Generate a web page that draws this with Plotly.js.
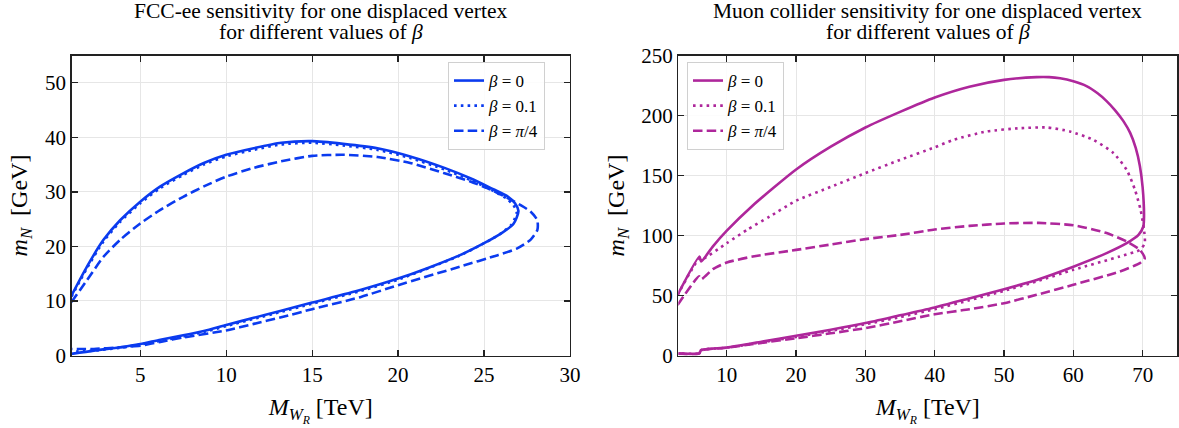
<!DOCTYPE html>
<html>
<head>
<meta charset="utf-8">
<script src="https://cdn.plot.ly/plotly-3.0.1.min.js"></script>
<style>
html,body{margin:0;padding:0;background:#fff;}
</style>
</head>
<body>
<div id="chart" style="width:1179px;height:428px"></div>
<script>
// ---------- FCC-ee (left panel) ----------
var fcc_b0_x = [1.0, 1.9, 2.86, 3.83, 5.0, 6.17, 7.5, 8.7, 10.0, 11.6, 13.2, 15.0, 16.8, 18.8, 20.7, 22.7, 24.2, 25.4, 26.4, 26.8, 27.0,
                26.9, 26.7, 26.0, 25.0, 23.6, 21.7, 20.0, 17.8, 15.0, 13.2, 11.6, 10.0, 8.7, 7.5, 6.17, 5.0, 3.83, 2.3, 1.0];
var fcc_b0_y = [11.0, 16.3, 21.2, 24.8, 28.2, 31.0, 33.4, 35.3, 36.8, 38.0, 39.0, 39.3, 38.8, 38.0, 36.5, 34.4, 32.5, 30.7, 29.1, 27.9, 26.5,
                25.3, 24.1, 22.4, 20.6, 18.4, 16.0, 14.1, 12.0, 9.7, 8.2, 6.9, 5.6, 4.5, 3.7, 2.9, 2.1, 1.5, 0.9, 0.3];

var fcc_b01_x = [1.0, 1.9, 2.86, 3.83, 5.0, 6.17, 7.5, 8.7, 10.0, 11.6, 13.2, 15.0, 16.8, 18.8, 20.7, 22.7, 24.2, 25.4, 26.3, 26.7, 26.9,
                 26.8, 26.6, 25.9, 24.9, 23.5, 21.6, 20.0, 17.8, 15.0, 13.2, 11.6, 10.0, 8.7, 7.5, 6.17, 5.0, 3.83, 2.3, 1.0];
var fcc_b01_y = [10.8, 16.0, 20.9, 24.5, 27.9, 30.7, 33.1, 35.0, 36.5, 37.7, 38.7, 39.0, 38.5, 37.7, 36.2, 34.1, 32.2, 30.4, 28.8, 27.6, 26.3,
                 25.2, 24.0, 22.2, 20.4, 18.2, 15.8, 13.9, 11.8, 9.5, 8.0, 6.7, 5.4, 4.3, 3.5, 2.7, 2.0, 1.4, 0.9, 0.7];

var fcc_bpi4_x = [1.0, 1.9, 2.86, 3.83, 5.0, 6.17, 7.5, 8.7, 10.0, 11.6, 13.2, 15.0, 16.8, 18.8, 20.7, 22.7, 24.2, 25.4, 26.6, 27.1, 27.7, 28.1,
                  28.1, 27.7, 26.9, 25.8, 23.6, 20.0, 17.8, 15.0, 13.2, 11.6, 10.0, 7.5, 6.17, 5.0, 3.83, 2.3, 1.0];
var fcc_bpi4_y = [9.8, 13.8, 18.1, 21.2, 24.2, 26.7, 29.1, 31.0, 32.8, 34.4, 35.6, 36.6, 36.8, 36.4, 35.3, 33.4, 31.9, 30.4, 28.5, 27.6, 26.4, 24.8,
                  23.0, 21.2, 19.6, 18.4, 16.3, 12.9, 10.7, 8.5, 7.0, 5.8, 4.6, 3.3, 2.5, 1.8, 1.5, 1.2, 1.2];

// ---------- Muon collider (right panel) ----------
var mu_b0_x = [2.9, 6.06, 6.3, 8.0, 10.0, 13.75, 20.0, 25.0, 30.0, 35.0, 40.0, 45.0, 50.0, 54.7, 56.5, 58.1, 60.0, 61.9, 63.5, 64.8, 66.0, 67.2, 68.2, 69.0, 69.6, 70.0, 70.2,
               70.1, 69.4, 67.7, 64.8, 60.0, 54.7, 50.0, 45.1, 40.0, 35.0, 30.0, 25.0, 20.0, 15.0, 10.0, 6.3, 6.0, 3.0];
var mu_b0_y = [50.5, 82.5, 78.3, 91.0, 104.0, 125.0, 155.0, 174.0, 190.0, 203.0, 215.0, 224.0, 229.7, 232.0, 232.0, 231.0, 228.5, 224.5, 218.5, 212.0, 204.5, 195.5, 185.5, 173.0, 158.0, 140.0, 116.0,
               107.5, 100.5, 93.6, 85.3, 74.0, 63.0, 55.3, 47.8, 40.0, 33.5, 27.0, 21.5, 16.4, 11.5, 6.7, 4.5, 1.8, 1.8];

var mu_b01_x = [2.9, 6.0, 6.3, 10.0, 13.0, 16.2, 20.0, 25.0, 30.0, 35.0, 40.0, 42.7, 47.5, 52.3, 56.2, 59.5, 62.9, 65.8, 67.7, 68.9, 69.7, 70.2,
                70.3, 69.6, 66.7, 60.0, 54.7, 50.0, 45.0, 40.0, 35.0, 30.0, 25.0, 20.0, 15.0, 10.0, 6.3, 6.0, 3.0];
var mu_b01_y = [50.5, 80.5, 79.7, 93.6, 105.0, 115.8, 129.0, 140.5, 152.0, 163.0, 173.5, 179.7, 186.7, 189.4, 190.0, 186.7, 179.7, 168.6, 154.7, 138.0, 121.4, 104.7,
                93.6, 88.0, 82.5, 71.4, 61.7, 53.9, 46.0, 38.6, 32.0, 26.0, 20.5, 15.5, 11.0, 6.5, 4.5, 1.8, 1.8];

var mu_bpi4_x = [2.9, 6.0, 6.3, 8.0, 10.0, 13.75, 20.0, 25.0, 30.0, 35.0, 40.0, 45.0, 50.0, 55.0, 60.0, 64.8, 67.7, 69.6, 70.3,
                 69.6, 66.7, 60.0, 54.7, 50.0, 45.0, 40.0, 35.0, 30.0, 25.0, 20.0, 15.0, 10.0, 6.3, 6.0, 3.0];
var mu_bpi4_y = [42.0, 66.0, 63.5, 72.0, 77.5, 82.5, 88.0, 92.5, 97.0, 100.5, 105.0, 108.0, 110.0, 110.5, 108.5, 102.0, 95.0, 88.0, 81.0,
                 77.0, 70.0, 58.9, 50.6, 43.6, 38.5, 34.4, 28.5, 22.8, 18.5, 14.4, 10.5, 6.5, 4.2, 1.5, 1.5];

var legendNames = ['<i>β</i> = 0', '<i>β</i> = 0.1', '<i>β</i> = <i>π</i>/4'];
var titleLine1 = ['FCC-ee sensitivity for one displaced vertex', 'Muon collider sensitivity for one displaced vertex'];
var titleLine2 = 'for different values of <i>β</i>';

var blue = '#0b3bef';
var mag = '#ae279b';
var LW = 2.6;
var dashes = ['solid', '2.6px,4.2px', '9.5px,4.2px'];
var FONT = 'Liberation Serif';

function tr(x, y, i, color, xa, ya, leg) {
  return {x: x, y: y, type: 'scatter', mode: 'lines', name: legendNames[i],
          xaxis: xa, yaxis: ya, legend: leg,
          line: {color: color, width: LW, dash: dashes[i], shape: 'spline', smoothing: 0.6}};
}

var data = [
  tr(fcc_b0_x, fcc_b0_y, 0, blue, 'x', 'y', 'legend'),
  tr(fcc_b01_x, fcc_b01_y, 1, blue, 'x', 'y', 'legend'),
  tr(fcc_bpi4_x, fcc_bpi4_y, 2, blue, 'x', 'y', 'legend'),
  tr(mu_b0_x, mu_b0_y, 0, mag, 'x2', 'y2', 'legend2'),
  tr(mu_b01_x, mu_b01_y, 1, mag, 'x2', 'y2', 'legend2'),
  tr(mu_bpi4_x, mu_bpi4_y, 2, mag, 'x2', 'y2', 'legend2')
];

var W = 1179, H = 428;
function axisCommon() {
  return {showline: true, linecolor: '#222', linewidth: 1.3, mirror: 'allticks',
          ticks: 'inside', ticklen: 6, tickwidth: 1.3, tickcolor: '#222',
          showgrid: true, gridcolor: '#e6e6e6', gridwidth: 1, zeroline: false,
          tickfont: {family: FONT, size: 21, color: '#000'}};
}
var xTitle = '<i>M</i><sub><i>W</i><sub><i>R</i></sub></sub> [TeV]';
var yTitle = '<i>m</i><sub><i>N</i></sub>  [GeV]';

var xa1 = Object.assign(axisCommon(), {domain: [71.5/W, 570/W], range: [1, 30], tickvals: [5,10,15,20,25,30], anchor: 'y',
  title: {text: xTitle, font: {family: FONT, size: 24, color: '#000'}, standoff: 12}});
var ya1 = Object.assign(axisCommon(), {domain: [72.5/H, 372.5/H], range: [0, 55], tickvals: [0,10,20,30,40,50], anchor: 'x',
  title: {text: yTitle, font: {family: FONT, size: 24, color: '#000'}, standoff: 10}});
var xa2 = Object.assign(axisCommon(), {domain: [678.3/W, 1177.3/W], range: [3, 75], tickvals: [10,20,30,40,50,60,70], anchor: 'y2',
  title: {text: xTitle, font: {family: FONT, size: 24, color: '#000'}, standoff: 12}});
var ya2 = Object.assign(axisCommon(), {domain: [72.5/H, 372.5/H], range: [0, 250], tickvals: [0,50,100,150,200,250], anchor: 'x2',
  title: {text: yTitle, font: {family: FONT, size: 24, color: '#000'}, standoff: 10}});

function legendCfg(xpx, ypx) {
  return {x: xpx/W, y: 1 - ypx/H, xanchor: 'left', yanchor: 'top', xref: 'paper', yref: 'paper',
          bgcolor: 'rgba(255,255,255,0.85)', bordercolor: '#d0d0d0', borderwidth: 1,
          font: {family: FONT, size: 17, color: '#000'}, tracegroupgap: 0, itemwidth: 30};
}

function titleAnn(text, xpx, ypx) {
  return {text: text, x: xpx/W, y: 1 - ypx/H, xref: 'paper', yref: 'paper', xanchor: 'center', yanchor: 'middle',
          showarrow: false, font: {family: FONT, size: 21.5, color: '#000'}};
}

var layout = {
  width: W, height: H,
  margin: {l: 0, r: 0, t: 0, b: 0},
  paper_bgcolor: '#fff', plot_bgcolor: '#fff',
  showlegend: true,
  font: {family: FONT, color: '#000'},
  xaxis: xa1, yaxis: ya1, xaxis2: xa2, yaxis2: ya2,
  legend: legendCfg(448, 62),
  legend2: legendCfg(687, 62),
  annotations: [
    titleAnn(titleLine1[0], 320.7, 10.5),
    titleAnn(titleLine2, 320.7, 32.5),
    titleAnn(titleLine1[1], 927.8, 10.5),
    titleAnn(titleLine2, 927.8, 32.5)
  ]
};

Plotly.newPlot('chart', data, layout, {displayModeBar: false, staticPlot: true});
</script>
</body>
</html>
